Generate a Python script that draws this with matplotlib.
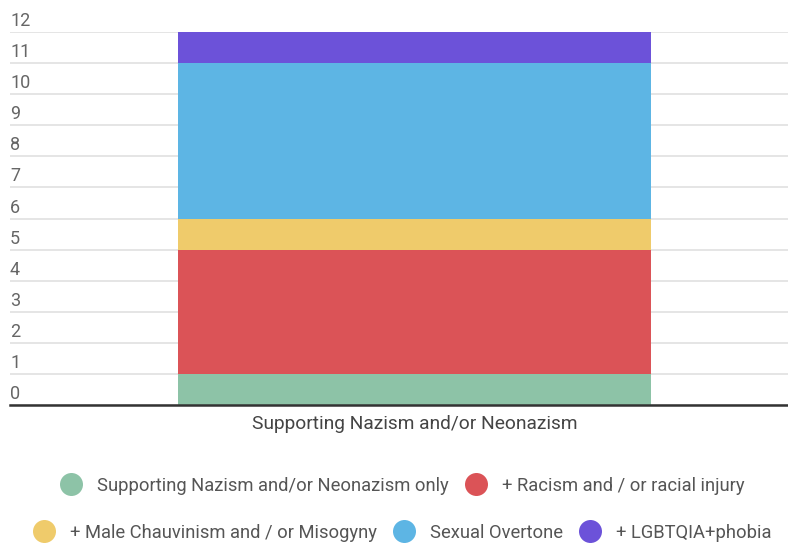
import matplotlib
matplotlib.use("Agg")
import matplotlib.pyplot as plt
from matplotlib.lines import Line2D
import matplotlib.transforms as mtransforms

plt.rcParams['font.family'] = ['Roboto', 'DejaVu Sans']

# Data
category = "Supporting Nazism and/or Neonazism"
series_names = [
    "Supporting Nazism and/or Neonazism only",
    "+ Racism and / or racial injury",
    "+ Male Chauvinism and / or Misogyny",
    "Sexual Overtone",
    "+ LGBTQIA+phobia",
]
series_values = [1, 4, 1, 5, 1]
series_colors = ["#8dc3a7", "#db5357", "#efcb6b", "#5db5e4", "#6c52d9"]
y_ticks = list(range(0, 13))

W, H, DPI = 788, 543, 100
fig = plt.figure(figsize=(W / DPI, H / DPI), dpi=DPI)

# Plot area in pixel coordinates
ax_left, ax_right = 10, 788
ax_top, ax_bottom = 32, 405
ax = fig.add_axes([ax_left / W, (H - ax_bottom) / H,
                   (ax_right - ax_left) / W, (ax_bottom - ax_top) / H])

bottom = 0
for name, val, col in zip(series_names, series_values, series_colors):
    ax.bar(0, val, width=1.0, bottom=bottom, color=col, label=name,
           zorder=2, linewidth=0)
    bottom += val

# Bar spans 178..651 px of a 10..788 px axis
bar_px = 472.4
center_px = 414.5
ax.set_xlim(-(center_px - ax_left) / bar_px, (ax_right - center_px) / bar_px)
ax.set_ylim(0, 12)

ax.set_yticks(y_ticks)
ax.set_yticklabels([])
ax.tick_params(axis='y', length=0)
ax.yaxis.grid(True, color="#e0e0e0", linewidth=1.2, zorder=0)
ax.set_axisbelow(True)

ax.set_xticks([0])
ax.set_xticklabels([category], fontsize=13.8, color="#444444")
ax.tick_params(axis='x', length=0, pad=7)

for s in ("top", "right", "left"):
    ax.spines[s].set_visible(False)
ax.spines["bottom"].set_color("#333333")
ax.spines["bottom"].set_linewidth(1.8)
ax.spines["bottom"].set_zorder(3)

# Y labels sit just above their gridlines, left aligned
blend = mtransforms.blended_transform_factory(ax.transAxes, ax.transData)
for v in y_ticks:
    ax.annotate(str(v), xy=(0, v), xycoords=blend, xytext=(0, 4.3),
                textcoords="offset points", ha="left", va="baseline",
                fontsize=13, color="#666666")

# Legend laid out as centred rows of circle + label
rows = [[0, 1], [2, 3, 4]]
row_y = [484, 531]
diam = 23
gap = 15
legend_fs = 13.2
center_x = 402

fig.canvas.draw()
renderer = fig.canvas.get_renderer()

def text_width(s):
    t = fig.text(0, 0, s, fontsize=legend_fs)
    w = t.get_window_extent(renderer).width
    t.remove()
    return w

for row, ypx in zip(rows, row_y):
    widths = [text_width(series_names[i]) for i in row]
    total = sum(diam + gap + w for w in widths) + gap * (len(row) - 1)
    x = center_x - total / 2
    yf = (H - ypx) / H
    for i, w in zip(row, widths):
        fig.add_artist(Line2D([(x + diam / 2) / W], [yf], marker="o",
                              markersize=diam * 72 / DPI, linestyle="none",
                              color=series_colors[i], markeredgewidth=0,
                              transform=fig.transFigure))
        x += diam + gap
        fig.text(x / W, yf, series_names[i], fontsize=legend_fs,
                 color="#555555", ha="left", va="center_baseline")
        x += w + gap

fig.savefig("out.png", dpi=DPI)
